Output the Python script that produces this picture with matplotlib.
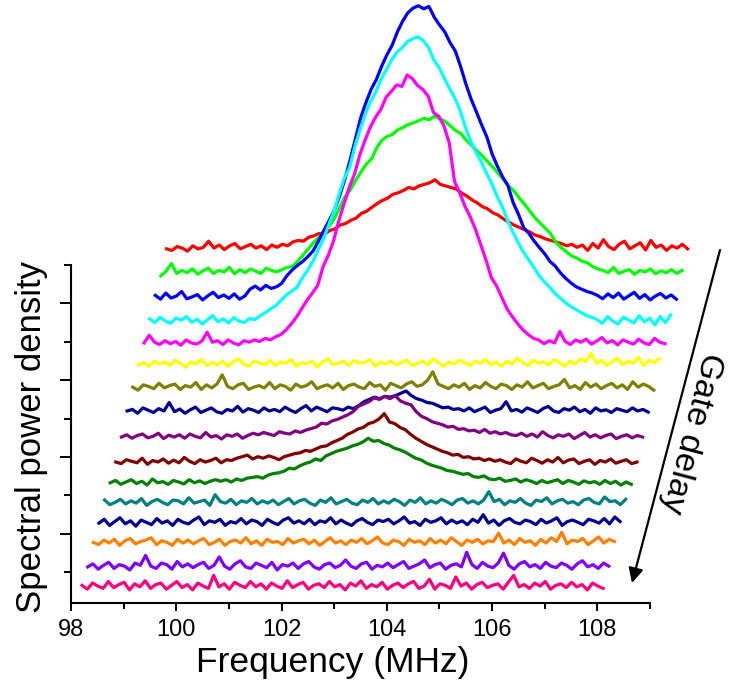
import numpy as np
import matplotlib
matplotlib.use("Agg")
import matplotlib.pyplot as plt

# spectra sampled every 0.1 MHz (100 points), values in a.u. above each baseline
freq_start = 98.21
freq_step = 0.1
n_points = 100

pink = [4, -6, 10, 2, -4, 14, -2, 6, 12, -8,
        8, 0, 16, -4, 6, 10, -6, 4, 14, -2,
        6, -8, 10, 2, -4, 30, 0, 8, -6, 12,
        4, -2, 14, 0, 8, -6, 10, 2, -4, 16,
        -2, 6, 12, -6, 4, 8, -2, 14, 0, 6,
        -8, 10, 2, 16, -4, 6, 0, 12, -6, 4,
        10, -2, 8, 14, -4, 2, 20, -6, 8, 4,
        -4, 26, 2, 10, -6, 6, 12, -2, 4, 8,
        -6, 12, 30, 0, 6, -4, 10, 2, 14, -6,
        4, 8, -2, 12, 0, 6, -8, 10, 2, -4]
violet = [0, 8, -6, 4, 12, -4, 6, 2, -8, 10,
          4, 30, 2, -4, 10, 6, -6, 14, 0, 8,
          -2, 6, 12, -4, 4, 26, 2, -6, 8, 16,
          0, -4, 10, 4, -2, 12, -8, 6, 2, 10,
          -4, 8, 14, 0, -6, 6, 10, -2, 4, 18,
          2, -4, 8, 12, -6, 4, 0, 10, -2, 6,
          14, -4, 2, 8, 18, -2, 6, 10, -6, 4,
          8, 0, 38, 6, -4, 12, 2, -2, 10, 36,
          4, -6, 8, 14, 0, 6, -4, 12, 2, -2,
          10, 4, -6, 8, 16, 0, 6, -4, 10, 2]
orange = [2, -4, 8, 0, 10, -6, 6, 12, -2, 4,
          8, 14, -4, 6, 2, -6, 10, 0, 8, -2,
          6, 12, -4, 2, 10, -6, 4, 8, 0, 14,
          -2, 6, -6, 10, 2, 4, -4, 12, 0, 6,
          10, -2, 8, -6, 4, 14, 0, 6, -4, 8,
          2, 12, -2, 6, 16, 0, -4, 8, 4, -6,
          10, 2, 6, -4, 12, 0, 8, -2, 14, 4,
          -6, 8, 2, 10, -2, 6, 4, 26, 0, 8,
          -4, 12, 2, 6, -6, 10, 0, 14, 4, 28,
          -2, 8, 4, 12, -4, 6, 16, 0, 10, 4]
navy = [0, 10, -6, 4, 14, -2, 6, -8, 8, 2,
        -4, 12, 0, 6, -6, 10, 2, -2, 8, 16,
        -4, 6, 2, 10, -6, 4, 0, 12, -2, 8,
        4, -6, 10, 2, -4, 8, 14, 0, 6, -2,
        10, -4, 6, 2, 14, -2, 8, 0, -6, 6,
        12, 2, -4, 8, 4, 10, -2, 6, 16, 0,
        4, -6, 10, 2, 6, 14, -2, 8, 0, 6,
        -4, 10, 2, 22, 0, 8, -6, 6, 12, 2,
        -2, 8, 4, -4, 10, 0, 6, 14, -6, 4,
        8, 2, -4, 10, 6, 0, 12, -2, 16, 4]
teal = [8, -4, 2, 10, -2, 6, 0, 12, -6, 4,
        10, 2, -4, 8, 6, -2, 14, 0, 4, 8,
        -6, 22, 4, 0, 10, -4, 6, 2, 12, -2,
        6, 0, 8, -4, 4, 12, -2, 6, 10, 0,
        -6, 8, 2, 14, -2, 4, 10, 0, -4, 8,
        2, 12, -2, 6, 0, 10, 4, -6, 8, 2,
        14, -2, 6, 0, 10, 4, -4, 8, 12, 0,
        6, -2, 8, 30, 4, 10, -4, 6, 2, 12,
        0, -6, 8, 4, 14, -2, 6, 10, 0, 4,
        -4, 8, 12, 2, -2, 16, 4, 6, -4, 10]
green = [0, 6, -4, 2, 8, -2, 4, -6, 10, 0,
         3, -4, 6, 2, -3, 8, 0, 5, -2, 4,
         8, 4, 8, 2, 10, 6, 12, 14, 16, 12,
         20, 24, 26, 30, 38, 36, 44, 50, 54, 62,
         58, 70, 76, 82, 86, 90, 96, 100, 106, 116,
         108, 110, 102, 98, 90, 86, 80, 72, 64, 60,
         52, 46, 42, 38, 32, 30, 26, 22, 24, 16,
         14, 18, 10, 8, 12, 4, 6, 10, 2, 8,
         4, -2, 6, 0, 4, 8, -2, 6, 2, -4,
         5, 0, 3, -4, 6, -2, 4, -6, 2, -4]
maroon = [0, -4, 6, 2, -2, 10, -6, 4, 0, 8,
          -3, 5, -2, 12, 2, -4, 6, 0, 4, 10,
          -2, 6, 4, 10, 14, 18, 8, 14, 10, 16,
          12, 6, 14, 18, 22, 24, 30, 28, 34, 40,
          42, 50, 56, 62, 72, 78, 86, 90, 100, 104,
          112, 126, 104, 100, 90, 84, 72, 62, 54, 46,
          40, 34, 28, 24, 18, 20, 12, 14, 8, 10,
          4, 8, 2, 6, 0, -4, 8, 2, -2, 10,
          4, -3, 6, 0, 12, -2, 5, 8, -4, 2,
          6, -6, 4, 0, 8, -3, 2, 6, -4, 0]
purple = [0, 6, -3, 4, 8, -2, 2, 10, -4, 5,
          0, 6, -3, 8, 2, -2, 12, 0, 4, -5,
          6, 2, 8, -3, 4, 10, 6, 12, 8, 4,
          14, 10, 8, 16, 12, 18, 22, 26, 36, 34,
          42, 46, 52, 58, 66, 80, 86, 92, 102, 98,
          106, 100, 108, 94, 88, 84, 66, 54, 48, 40,
          36, 32, 26, 28, 20, 22, 16, 18, 12, 20,
          10, 14, 8, 12, 6, 4, 10, 2, 8, 0,
          14, 4, -2, 6, 2, 8, -4, 4, 12, 0,
          6, -2, 4, 8, -4, 2, 6, -2, 4, 0]
navy2 = [0, 4, -6, 8, 2, -4, 6, 0, 22, -2,
         5, -6, 3, 10, -4, 2, 8, -2, -6, 4,
         0, 12, -3, 6, 2, -4, 8, 0, 4, -2,
         10, 2, -4, 6, 14, 0, 10, 4, -2, 8,
         6, 2, 10, 6, 14, 24, 30, 36, 32, 38,
         36, 40, 46, 52, 40, 32, 28, 22, 20, 14,
         8, 10, 4, 6, 0, 8, -2, 4, 10, -4,
         2, 6, 24, 0, 4, -3, 8, 2, -4, 6,
         12, 0, -4, 6, 2, 10, -2, 4, -6, 8,
         0, 3, -4, 6, 2, -2, 8, 0, 4, -3]
olive = [2, -6, 8, 4, -2, 12, 0, 6, 10, -4,
         6, 2, 14, -4, 8, 0, 10, 34, 4, -2,
         8, 12, -4, 2, 6, 0, 14, -2, 8, 4,
         -6, 10, 2, 6, 16, -2, 4, 8, 0, 12,
         -4, 6, 10, 2, -2, 14, 4, 8, -6, 12,
         6, 0, 10, 16, 4, 8, 20, 42, 10, 4,
         -2, 8, 2, 12, -4, 6, 0, 14, 4, -2,
         10, 6, -4, 8, 2, 16, 0, 6, 12, -2,
         4, 8, 22, 0, 6, -4, 14, 2, 10, -2,
         6, 12, 0, 8, -4, 16, 2, 10, 4, -6]
yellow = [0, 6, -4, 10, 2, 8, -2, 12, 4, -6,
          8, 2, 14, -2, 6, 0, 10, -4, 8, 16,
          2, -4, 10, 6, 0, 12, -2, 8, 4, 14,
          -4, 6, 2, 10, -6, 8, 16, 0, 4, 10,
          -2, 12, 4, 6, 14, -4, 8, 2, 10, 0,
          6, 12, -2, 4, 10, 0, 16, 6, -4, 8,
          2, 12, 6, -2, 10, 4, 14, 0, 8, -4,
          10, 2, 18, 6, -2, 12, 4, 8, 0, 14,
          6, -4, 10, 2, 16, 8, 30, 4, 12, -2,
          8, 18, 0, 10, 4, 20, -2, 12, 6, 16]
magenta = [0, 20, 2, -4, 6, -2, 4, -6, 8, 0,
           -3, 5, 28, 2, 6, -4, 8, 0, -5, 6,
           2, 8, 4, 12, 8, 16, 22, 34, 50, 68,
           90, 112, 130, 150, 198, 228, 265, 318, 362, 405,
           440, 490, 528, 562, 588, 608, 640, 655, 672, 668,
           698, 688, 670, 660, 642, 600, 590, 565, 520, 420,
           390, 355, 328, 295, 255, 215, 170, 148, 118, 88,
           68, 50, 34, 22, 12, 8, -2, 6, 0, 30,
           4, -4, 8, 2, 10, -3, 5, 14, 0, 6,
           -5, 8, 2, -3, 10, 0, -4, 12, 2, -2]
cyan = [6, -4, 10, 0, -6, 8, 2, 12, -3, 5,
        -8, 4, 14, -2, 6, -5, 9, 0, -4, 7,
        4, 14, 22, 32, 40, 55, 68, 78, 88, 112,
        132, 155, 185, 212, 250, 285, 330, 372, 400, 455,
        500, 540, 572, 598, 630, 655, 680, 700, 712, 728,
        735, 740, 730, 712, 680, 660, 632, 605, 580, 548,
        505, 468, 440, 415, 385, 358, 325, 298, 262, 232,
        205, 180, 160, 140, 118, 102, 88, 72, 60, 48,
        38, 30, 22, 14, 10, 4, -6, 12, 0, -8,
        10, 3, -5, 14, -2, 8, -10, 12, -4, 16]
blue = [4, -6, 10, -3, 2, 14, -5, 0, 6, -8,
        3, 12, -2, 5, -4, 8, -6, 2, 20, 28,
        18, 30, 22, 26, 35, 55, 70, 82, 92, 105,
        120, 145, 172, 198, 225, 262, 305, 356, 410, 465,
        505, 540, 566, 600, 630, 655, 690, 718, 740, 752,
        758, 750, 756, 728, 708, 690, 662, 640, 600, 555,
        515, 482, 448, 416, 372, 340, 312, 290, 245, 215,
        180, 165, 145, 128, 112, 92, 80, 62, 48, 36,
        26, 20, 14, 10, 4, -5, 8, -2, 10, -6,
        3, 12, -4, 6, -8, 2, 9, -3, 5, -6]
lime = [-8, 4, 24, -2, 6, 0, 10, -4, 5, 12,
        -2, 6, 2, 14, -3, 8, 0, 10, 4, -2,
        12, 6, 2, 8, 14, 16, 30, 46, 62, 78,
        92, 104, 122, 142, 170, 198, 216, 240, 262, 282,
        296, 325, 345, 355, 360, 372, 378, 386, 390, 396,
        402, 398, 408, 400, 394, 382, 370, 362, 345, 332,
        318, 305, 290, 276, 260, 244, 226, 214, 196, 180,
        162, 144, 130, 116, 102, 80, 66, 55, 44, 38,
        30, 26, 16, 10, 6, 0, 14, -2, 4, 8,
        -4, 6, 2, 10, -3, 5, 0, 8, -2, 6]
red = [0, -4, 6, 2, -6, 8, 0, 4, 20, 2,
       10, -2, 8, 14, 0, 6, 12, 2, 8, -2,
       10, 4, 12, 8, 18, 22, 20, 30, 34, 40,
       38, 48, 52, 62, 66, 74, 80, 92, 98, 108,
       118, 126, 132, 142, 146, 152, 160, 156, 164, 168,
       172, 180, 168, 164, 160, 156, 146, 138, 128, 120,
       110, 104, 94, 88, 78, 70, 62, 56, 50, 44,
       36, 32, 26, 22, 18, 14, 8, 12, 4, 10,
       -4, 14, 2, 24, 6, -2, 12, 20, 0, 8,
       16, -3, 22, 4, 10, -4, 8, 2, 12, 0]

# bottom (first delay) to top
spectra = [pink, violet, orange, navy, teal, green, maroon, purple,
           navy2, olive, yellow, magenta, cyan, blue, lime, red]
colors = ["#ff0080", "#8000ff", "#ff8000", "#000090", "#008080", "#008000",
          "#800000", "#800080", "#000090", "#808000", "#ffff00", "#ff00ff",
          "#00ffff", "#0000ff", "#00ff00", "#ff0000"]

# waterfall layout
baselines = [-38, 14, 76, 128, 180, 233, 287, 352,
             420, 480, 540, 597, 654, 717, 780, 842]
x_shift = 0.107


def main():
    plt.rcParams['font.family'] = ['Liberation Sans', 'DejaVu Sans']
    fig = plt.figure(figsize=(7.3, 6.92), dpi=100)
    ax = fig.add_axes([71 / 730, 89 / 692, 579 / 730, 338 / 692])

    f = freq_start + freq_step * np.arange(n_points)
    # draw top trace first so lower ones sit on top
    for i in range(len(spectra) - 1, -1, -1):
        s = np.asarray(spectra[i], dtype=float)
        assert len(s) == n_points, i
        ax.plot(f + i * x_shift, s + baselines[i], color=colors[i],
                lw=2.3, clip_on=False, solid_joinstyle='round')

    ax.set_xlim(98, 109)
    ax.set_ylim(-80, 800)
    ax.set_xticks(np.arange(98, 109, 2))
    ax.set_xticks(np.arange(99, 110, 2), minor=True)
    ax.set_yticks([100, 300, 500, 700])
    ax.set_yticks([0, 200, 400, 600, 800], minor=True)
    ax.tick_params(labelleft=False)
    ax.tick_params(axis='x', which='major', length=5.4, width=1.4,
                   labelsize=17, pad=6)
    ax.tick_params(axis='x', which='minor', length=4, width=1.4)
    ax.tick_params(axis='y', which='major', length=8, width=1.4)
    ax.tick_params(axis='y', which='minor', length=4.8, width=1.4)
    for side in ['top', 'right']:
        ax.spines[side].set_visible(False)
    for side in ['left', 'bottom']:
        ax.spines[side].set_linewidth(1.5)

    ax.set_xlabel('Frequency (MHz)', fontsize=25.5, va='center')
    ax.xaxis.set_label_coords(0.4525, -0.1775)
    ax.set_ylabel('Spectral power density', fontsize=25, va='center')
    ax.yaxis.set_label_coords(-0.069, 0.49)

    # gate delay arrow
    ax.annotate('', xy=(632, 109), xycoords='figure pixels',
                xytext=(720, 442), textcoords='figure pixels',
                arrowprops=dict(arrowstyle='-|>', color='black', lw=1.6,
                                mutation_scale=22, shrinkA=0, shrinkB=0))
    fig.text(691 / 730, 1 - 433 / 692, 'Gate delay', fontsize=24.5,
             rotation=-104.7, ha='center', va='center',
             rotation_mode='anchor')

    fig.savefig('out.png', dpi=100)


if __name__ == "__main__":
    main()
